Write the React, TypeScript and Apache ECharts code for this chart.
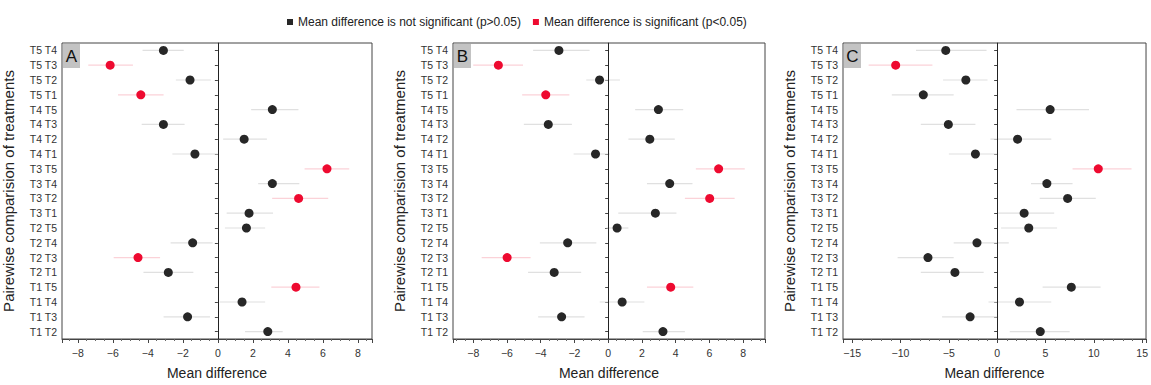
import React, { useEffect, useRef } from "react";
import * as echarts from "echarts";

const categories = [
  "T5 T4", "T5 T3", "T5 T2", "T5 T1", "T4 T5", "T4 T3", "T4 T2", "T4 T1",
  "T3 T5", "T3 T4", "T3 T2", "T3 T1", "T2 T5", "T2 T4", "T2 T3", "T2 T1",
  "T1 T5", "T1 T4", "T1 T3", "T1 T2",
];

const meanA = [-3.11, -6.15, -1.59, -4.4, 3.11, -3.11, 1.5, -1.31, 6.23, 3.11, 4.61, 1.78, 1.63, -1.44, -4.56, -2.83, 4.46, 1.38, -1.73, 2.85];
const lowA = [-4.3, -7.4, -2.4, -5.7, 1.9, -4.35, 0.3, -2.6, 4.95, 2.3, 3.1, 0.5, 0.4, -2.7, -5.95, -4.25, 3.05, 0.1, -3.1, 1.55];
const highA = [-1.95, -4.85, -0.4, -3.1, 4.6, -1.9, 2.8, 0.0, 7.5, 4.65, 6.3, 3.15, 2.7, -0.3, -3.3, -1.4, 5.8, 2.7, -0.45, 3.7];
const sigA = [1, 3, 8, 10, 14, 16];

const meanB = [-2.92, -6.51, -0.51, -3.7, 2.98, -3.55, 2.47, -0.75, 6.55, 3.65, 6.02, 2.8, 0.53, -2.4, -5.99, -3.2, 3.71, 0.83, -2.76, 3.25];
const lowB = [-4.45, -8.0, -1.3, -5.1, 1.6, -5.0, 1.2, -2.05, 5.2, 2.3, 4.55, 0.6, -0.1, -4.05, -7.5, -4.75, 2.3, -0.5, -4.15, 2.05];
const highB = [-1.1, -5.05, 0.7, -2.3, 4.45, -2.15, 3.95, 0.1, 8.1, 5.0, 7.5, 4.05, 1.2, -0.7, -4.6, -1.6, 5.05, 2.15, -1.4, 4.55];
const sigB = [1, 3, 8, 10, 14, 16];

const meanC = [-5.32, -10.5, -3.24, -7.64, 5.48, -5.05, 2.11, -2.25, 10.46, 5.14, 7.29, 2.79, 3.27, -2.09, -7.16, -4.37, 7.67, 2.31, -2.8, 4.46];
const lowC = [-8.4, -13.3, -5.6, -10.9, 2.0, -7.9, -0.7, -5.0, 7.8, 3.5, 4.4, 0.1, 0.4, -4.5, -10.3, -7.9, 4.7, -0.9, -5.7, 1.3];
const highC = [-1.1, -6.7, -1.0, -4.5, 9.5, -2.25, 5.6, 0.1, 13.9, 7.8, 10.2, 5.9, 6.2, 1.2, -4.5, -1.4, 10.7, 5.6, 0.1, 7.5];
const sigC = [1, 8];

const panelLetters = ["A", "B", "C"];
const NOT_SIG = "Mean difference is not significant (p>0.05)";
const SIG = "Mean difference is significant (p<0.05)";

const FONT = "'Liberation Sans', Arial, sans-serif";
const BLACK = "#272727";
const RED = "#ee0a30";

export default function App() {
  const ref = useRef<HTMLDivElement>(null);
  useEffect(() => {
    if (!ref.current) return;
    const chart = echarts.init(ref.current, null, { renderer: "svg" });

    const panels = [
      { mean: meanA, low: lowA, high: highA, sig: sigA, left: 62, width: 310, min: -8.9, max: 8.8, split: 9, step: 2, minor: 4 },
      { mean: meanB, low: lowB, high: highB, sig: sigB, left: 453, width: 312, min: -9.2, max: 9.3, split: 9, step: 2, minor: 4 },
      { mean: meanC, low: lowC, high: highC, sig: sigC, left: 843, width: 306, min: -15.95, max: 15.4, split: 6, step: 5, minor: 5 },
    ];
    const top = 43;
    const height = 301;

    const grids: any[] = [];
    const xAxes: any[] = [];
    const yAxes: any[] = [];
    const series: any[] = [];
    const graphics: any[] = [];

    panels.forEach((p, i) => {
      grids.push({
        left: p.left, top, width: p.width, height,
        show: true, borderColor: "#444", borderWidth: 1, backgroundColor: "transparent",
      });
      xAxes.push({
        type: "value", gridIndex: i, min: p.min, max: p.max, splitNumber: p.split,
        name: "Mean difference", nameLocation: "middle", nameGap: 27,
        nameTextStyle: { fontFamily: FONT, fontSize: 14, color: "#222" },
        axisLine: { show: true, onZero: false, lineStyle: { color: "#444", width: 1 } },
        axisTick: { show: true, length: 4, lineStyle: { color: "#444" } },
        minorTick: { show: true, splitNumber: p.minor, length: 2, lineStyle: { color: "#666" } },
        splitLine: { show: false },
        axisLabel: {
          fontFamily: FONT, fontSize: 10.5, color: "#333", margin: 8,
          formatter: (v: number) => {
            const r = Math.round(v);
            if (Math.abs(v - r) > 1e-6 || r % p.step !== 0) return "";
            return r < 0 ? "\u2212" + Math.abs(r) : String(r);
          },
        },
      });
      yAxes.push({
        type: "category", gridIndex: i, data: categories, inverse: true,
        name: "Pairewise comparision of treatments", nameLocation: "middle", nameGap: 46,
        nameRotate: 90,
        nameTextStyle: { fontFamily: FONT, fontSize: 15, color: "#222" },
        axisLine: { show: true, lineStyle: { color: "#444", width: 1 } },
        axisTick: { show: true, alignWithLabel: true, length: 3, lineStyle: { color: "#444" } },
        axisLabel: { fontFamily: FONT, fontSize: 10.5, color: "#333", margin: 5 },
        splitLine: { show: false },
      });

      const errData = categories.map((_, k) => [p.low[k], p.high[k], k, p.sig.includes(k) ? 1 : 0]);
      series.push({
        type: "custom", xAxisIndex: i, yAxisIndex: i, silent: true,
        data: errData,
        encode: { x: [0, 1], y: 2 },
        renderItem: (params: any, api: any) => {
          const a = api.coord([api.value(0), api.value(2)]);
          const b = api.coord([api.value(1), api.value(2)]);
          const s = api.value(3);
          return {
            type: "line",
            shape: { x1: a[0], y1: a[1], x2: b[0], y2: b[1] },
            style: { stroke: s ? "#fbd2d8" : "#e0e0e0", lineWidth: 1.2 },
          };
        },
        z: 1,
      });
      const nsData: any[] = [];
      const sData: any[] = [];
      categories.forEach((c, k) => {
        (p.sig.includes(k) ? sData : nsData).push([p.mean[k], c]);
      });
      series.push({
        name: NOT_SIG, type: "scatter", xAxisIndex: i, yAxisIndex: i,
        data: nsData, symbol: "circle", symbolSize: 9,
        itemStyle: { color: BLACK, opacity: 1 }, z: 3,
        markLine: {
          silent: true, symbol: "none", label: { show: false },
          lineStyle: { color: "#222", type: "solid", width: 1 },
          data: [{ xAxis: 0 }],
        },
      });
      series.push({
        name: SIG, type: "scatter", xAxisIndex: i, yAxisIndex: i,
        data: sData, symbol: "circle", symbolSize: 9,
        itemStyle: { color: RED, opacity: 1 }, z: 3,
      });

      graphics.push({
        type: "group", left: p.left + 1, top: top + 1,
        children: [
          { type: "rect", shape: { x: 0, y: 0, width: 17, height: 24 }, style: { fill: "#c3c3c3" } },
          {
            type: "text", x: 8.5, y: 12,
            style: { text: panelLetters[i], fontFamily: FONT, fontSize: 17, fill: "#111", align: "center", verticalAlign: "middle" },
          },
        ],
      });
    });

    chart.setOption({
      animation: false,
      backgroundColor: "#fff",
      textStyle: { fontFamily: FONT },
      legend: {
        left: 282, top: 11, itemWidth: 6, itemHeight: 6, itemGap: 12,
        icon: "rect",
        textStyle: { fontFamily: FONT, fontSize: 12, color: "#222" },
        data: [
          { name: NOT_SIG, itemStyle: { color: BLACK } },
          { name: SIG, itemStyle: { color: RED } },
        ],
      },
      grid: grids,
      xAxis: xAxes,
      yAxis: yAxes,
      series,
      graphic: graphics,
    });

    return () => chart.dispose();
  }, []);

  return <div ref={ref} style={{ width: 1151, height: 385, position: "absolute", left: 0, top: 0 }} />;
}
